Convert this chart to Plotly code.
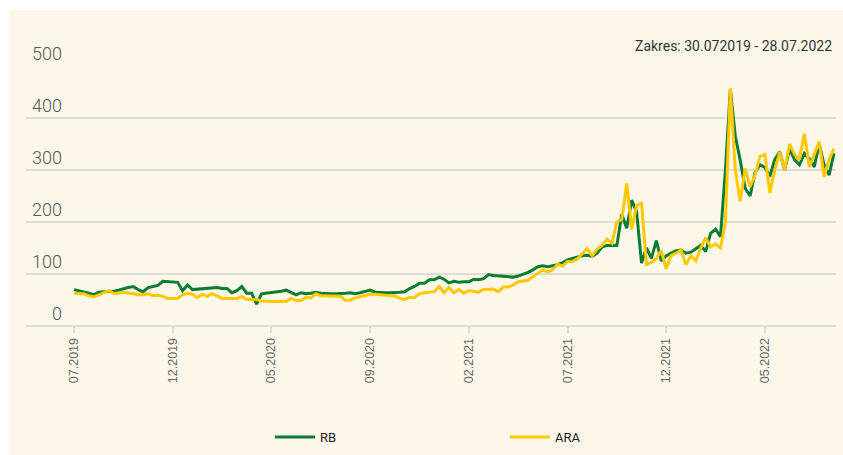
import plotly.graph_objects as go

# ---- data (weekly prices) ----
RB = [
    70, 68, 66, 63, 60, 65, 66, 66, 67, 69,
    72, 74, 76, 70, 66, 74, 76, 78, 86, 85,
    84, 84, 68, 79, 70, 71, 72, 72, 73, 74,
    72, 72, 64, 68, 76, 63, 63, 42, 62, 63,
    64, 65, 67, 69, 64, 60, 64, 62, 63, 65,
    63, 62, 62, 62, 62, 63, 64, 62, 64, 67,
    69, 65, 64, 64, 64, 64, 65, 66, 72, 76,
    82, 82, 89, 89, 94, 90, 83, 86, 84, 85,
    85, 90, 89, 91, 99, 97, 96, 95, 94, 94,
    96, 99, 103, 108, 114, 116, 114, 116, 118, 122,
    127, 130, 133, 135, 136, 134, 140, 152, 155, 155,
    155, 215, 188, 242, 220, 121, 150, 130, 164, 125,
    135, 140, 145, 146, 140, 142, 148, 155, 143, 178,
    186, 172, 300, 455, 365, 319, 265, 250, 295, 310,
    305, 288, 320, 335, 300, 340, 320, 310, 332, 322,
    306, 350, 310, 290, 332,
]
ARA = [
    63, 63, 62, 58, 56, 60, 64, 68, 63, 63,
    65, 64, 62, 60, 60, 62, 58, 59, 57, 53,
    53, 53, 60, 63, 61, 55, 61, 57, 62, 57,
    53, 53, 53, 53, 57, 51, 51, 51, 48, 47,
    47, 47, 47, 47, 53, 49, 49, 55, 54, 62,
    58, 58, 58, 58, 57, 49, 50, 54, 56, 58,
    61, 61, 60, 58, 58, 58, 53, 51, 55, 55,
    62, 64, 65, 66, 76, 64, 74, 64, 70, 63,
    68, 66, 65, 70, 71, 71, 66, 75, 75, 79,
    85, 87, 88, 95, 102, 108, 104, 108, 119, 115,
    124, 124, 129, 139, 149, 135, 148, 155, 167, 159,
    200, 205, 274, 186, 232, 236, 118, 122, 130, 145,
    110, 136, 140, 146, 118, 135, 125, 150, 170, 152,
    158, 150, 200, 457, 300, 240, 303, 268, 290, 326,
    330, 256, 300, 335, 300, 350, 330, 320, 370, 306,
    330, 354, 287, 320, 341,
]
week_index = list(range(len(RB)))
tick_positions = [0, 20, 40, 60, 80, 100, 120, 140]
tick_labels = ["07.2019", "12.2019", "05.2020", "09.2020",
               "02.2021", "07.2021", "12.2021", "05.2022"]
y_ticks = [0, 100, 200, 300, 400, 500]
y_tick_labels = ["0", "100", "200", "300", "400", "500"]
range_note = "Zakres: 30.072019 - 28.07.2022"

GREEN = "#0A7D32"
YELLOW = "#FFC800"
CREAM = "#FDF7EA"
GRID = "#DEDCD6"

W, H = 843, 455
L, R, T, B = 26, 7, 66, 129
pw = W - L - R
ph = H - T - B

def px_x(p):
    return (p - L) / pw

def px_y(p):
    return (H - B - p) / ph

fig = go.Figure()
fig.add_trace(go.Scatter(x=week_index, y=RB, name="RB", mode="lines",
                         line=dict(color=GREEN, width=3)))
fig.add_trace(go.Scatter(x=week_index, y=ARA, name="ARA", mode="lines",
                         line=dict(color=YELLOW, width=3)))

fig.add_shape(type="rect", xref="paper", yref="paper", layer="below",
              x0=px_x(9), x1=px_x(850), y0=px_y(460), y1=px_y(10),
              fillcolor=CREAM, line=dict(width=0))

fig.add_annotation(text=range_note, xref="paper", yref="paper",
                   x=px_x(834), y=px_y(46), xanchor="right", yanchor="middle",
                   showarrow=False,
                   font=dict(family="Roboto", size=14, color="#333333"))

x_left = -(74 - L) / 4.935
x_right = (W - R - 74) / 4.935

fig.update_layout(
    width=W, height=H, autosize=False,
    margin=dict(l=L, r=R, t=T, b=B, autoexpand=False),
    paper_bgcolor="white", plot_bgcolor="rgba(0,0,0,0)",
    showlegend=True,
    legend=dict(orientation="h", x=px_x(270), xanchor="left",
                y=px_y(437), yanchor="middle",
                entrywidth=180, itemwidth=40,
                font=dict(family="Roboto", size=13, color="#222222"),
                bgcolor="rgba(0,0,0,0)"),
    xaxis=dict(range=[x_left, x_right], tickmode="array",
               tickvals=tick_positions, ticktext=tick_labels,
               tickangle=-90, ticks="outside", ticklen=6, tickwidth=2,
               tickcolor=GRID, showgrid=False, zeroline=False,
               showline=False,
               tickfont=dict(family="Liberation Sans, Arial", size=12.5,
                             color="#666666")),
    yaxis=dict(range=[0, 500], tickmode="array", tickvals=y_ticks,
               ticktext=y_tick_labels, showgrid=True, gridcolor=GRID,
               gridwidth=2, zeroline=True, zerolinecolor=GRID,
               zerolinewidth=2, showline=False, ticks="",
               anchor="free", position=px_x(62),
               ticklabelposition="outside top",
               tickfont=dict(family="Roboto", size=18, color="#555555",
                             weight=300)),
)

fig.write_html(
    "out.html",
    config={"displayModeBar": False},
    post_script="document.body.style.margin='0';document.body.style.overflow='hidden';",
)
